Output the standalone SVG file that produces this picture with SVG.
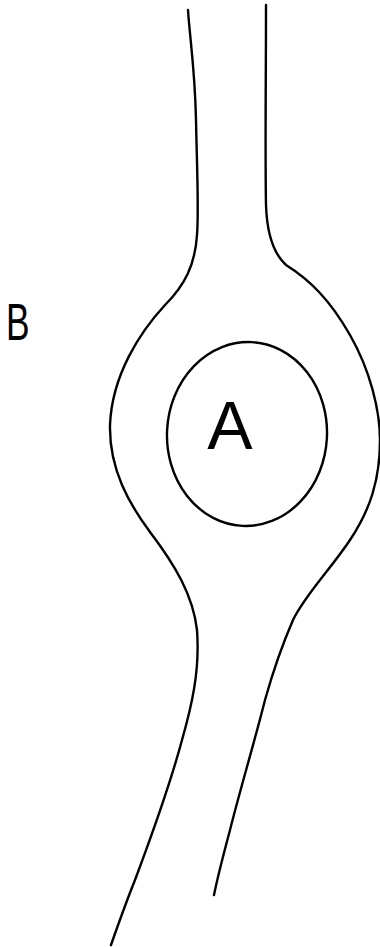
<svg xmlns="http://www.w3.org/2000/svg" width="380" height="947" viewBox="0 0 380 947">
<style>
.ln{fill:none;stroke:#000;stroke-width:2.4;stroke-linecap:round;stroke-linejoin:round}
.lbl{font-family:"Liberation Sans",Arial,sans-serif;fill:#000}
</style>
<rect width="380" height="947" fill="#fff"/>
<g id="vessel">
<path class="ln" d="M188,10 C190,40 195,70 196,120 C197,170 199,210 197,235 C195,265 185,285 165,305 C140,332 112,375 110,425 C109,470 130,505 150,532 C175,565 193,595 197,630 C200,670 192,705 182,740 C170,785 150,840 135,880 C125,905 118,925 111,945"/>
<path class="ln" d="M266,5 C266,80 265,150 266,205 C267,235 275,255 286,265 C310,280 330,300 350,335 C370,370 380,410 380,440 C380,480 370,510 350,540 C330,570 305,595 293,620 C280,650 272,675 265,700 C255,740 240,790 230,830 C222,860 217,880 214,895"/>
</g>
<g id="A">
<ellipse class="ln" cx="247" cy="434" rx="80" ry="92" transform="rotate(3 247 434)"/>
<text class="lbl" x="230" y="449" font-size="68" text-anchor="middle" font-weight="300">A</text>
</g>
<g id="B">
<text class="lbl" x="0" y="0" font-size="52" transform="translate(6 340) scale(0.68 1)">B</text>
</g>
</svg>
